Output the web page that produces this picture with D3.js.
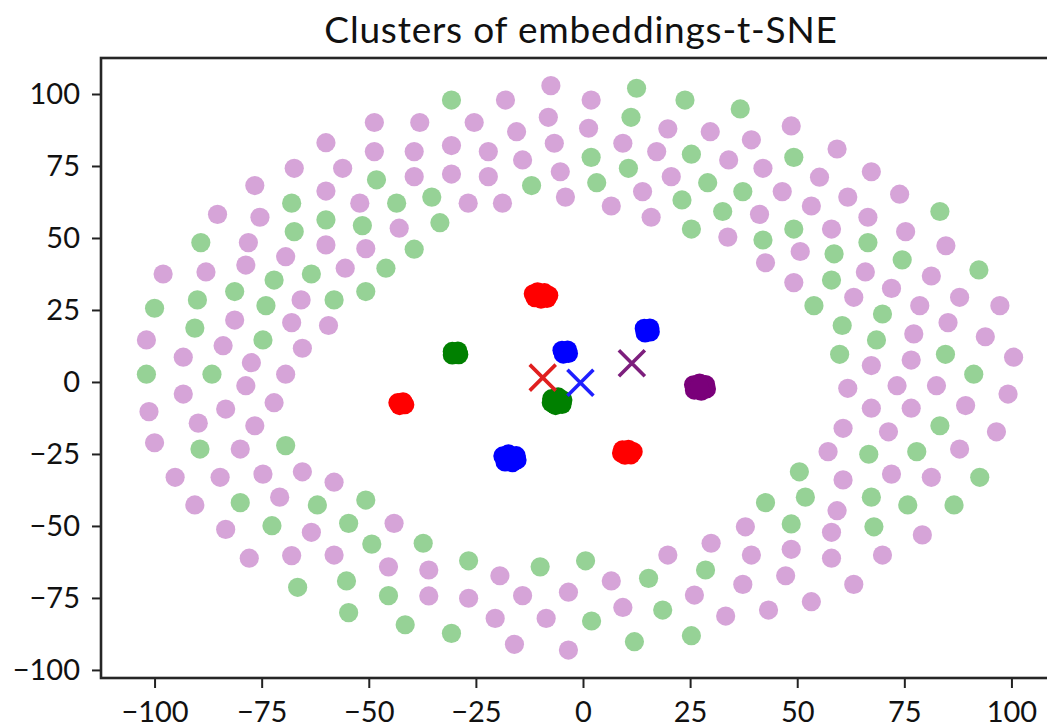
<!DOCTYPE html>
<html>
<head>
<meta charset="utf-8">
<script src="https://cdn.jsdelivr.net/npm/d3@7"></script>
<style>
  html, body { margin: 0; padding: 0; background: #fff; }
  svg { display: block; }
</style>
</head>
<body>
<svg id="chart" width="1047" height="728"></svg>
<script>
// ---- data -------------------------------------------------------------
const chartTitle = "Clusters of embeddings-t-SNE";
const xTicks = [-100, -75, -50, -25, 0, 25, 50, 75, 100];
const yTicks = [-100, -75, -50, -25, 0, 25, 50, 75, 100];

// faint background embeddings (two groups)
const violetPoints = [
  [-48.7,90.1],[-48.7,80.0],[-60.0,83.1],[-67.4,74.2],[-56.1,74.2],[-76.6,68.2],[-60.0,66.3],[-52.1,62.1],
  [-85.3,58.2],[-75.4,57.2],[-42.9,53.4],[-78.1,48.4],[-60.0,47.6],[-50.7,46.3],[-69.4,43.5],[-78.7,40.6],
  [-55.5,39.5],[-98.0,37.5],[-88.0,38.2],
  [-7.5,102.9],[-18.1,97.9],[1.9,97.9],[-38.1,90.1],[-25.4,90.1],[-8.1,91.9],[-15.5,86.9],[1.3,88.1],
  [19.8,87.9],[29.7,86.9],[-39.4,80.0],[-30.7,82.1],[-22.1,80.0],[-6.7,82.9],[9.3,82.9],[17.2,80.0],
  [-14.1,77.1],[-39.4,71.3],[-30.7,72.2],[-22.1,71.3],[-5.3,73.0],[20.6,71.3],[-26.8,62.1],[-18.8,62.1],
  [-4.1,64.2],[6.6,61.1],[13.9,66.1],[15.9,57.2],
  [48.6,88.9],[39.3,84.1],[34.0,77.1],[42.0,74.2],[59.3,80.9],[67.3,73.0],[55.2,71.1],[46.5,66.1],
  [61.8,64.2],[73.9,65.2],[41.2,58.2],[53.3,61.1],[66.5,57.2],[33.8,50.3],[58.0,53.1],[75.3,52.2],
  [84.7,47.3],[42.6,41.4],[50.7,45.3],[81.3,36.8],[65.9,38.2],
  [-65.8,28.5],[-101.9,14.6],[-81.3,21.5],[-68.0,20.6],[-59.4,19.6],[-84.0,12.6],[-93.3,8.6],[-65.5,11.7],
  [-77.4,6.7],[-69.4,2.7],[-78.7,-1.3],[-93.3,-4.2],[-72.1,-7.2],[-101.3,-10.3],[-83.4,-9.4],[-89.8,-14.3],
  [-76.6,-15.2],[-100.0,-21.1],[-80.0,-23.3],[-95.2,-33.1],[-84.7,-33.1],[-74.7,-32.0],[-65.5,-31.2],[-58.1,-34.8],
  [49.2,34.5],[72.0,32.5],[87.9,29.4],[97.3,26.5],[63.2,29.4],[78.6,26.5],[85.2,20.6],[77.2,16.7],
  [93.9,15.7],[67.3,5.7],[76.6,7.6],[100.5,8.6],[61.8,-2.2],[73.3,-1.3],[82.5,-1.3],[99.2,-4.2],
  [67.3,-9.1],[76.6,-9.1],[89.3,-8.2],[60.7,-16.1],[71.3,-17.3],[96.5,-17.3],[57.2,-24.2],[87.9,-23.3],
  [60.7,-34.0],[72.0,-32.0],[81.3,-33.1],
  [-90.6,-42.7],[-70.8,-40.0],[-83.4,-51.2],[-63.4,-52.2],[-44.1,-49.1],[-77.9,-61.2],[-68.0,-60.3],
  [-58.1,-60.1],[-45.4,-64.2],
  [-36.0,-65.3],[-36.0,-74.3],[-26.7,-75.1],[-19.4,-67.3],[-20.5,-82.1],[-14.1,-74.2],[-16.0,-91.1],
  [-8.6,-82.1],[-3.4,-73.0],[-3.4,-93.1],[6.6,-69.1],[9.3,-78.3],[19.8,-60.1],[26.0,-74.0],[29.9,-56.0],
  [37.9,-50.3],[59.3,-44.7],[58.0,-52.2],[79.2,-53.1],[39.3,-60.1],[48.6,-58.1],[58.0,-61.2],[69.9,-60.1],
  [37.3,-70.3],[47.3,-67.3],[63.2,-70.3],[33.3,-81.3],[43.3,-79.2],[53.3,-76.3]
];

const greenPoints = [
  [-48.2,70.2],[-68.0,62.1],[-43.5,62.1],[-60.0,56.3],[-51.5,54.3],[-67.4,52.2],[-89.2,48.4],[-46.0,39.5],
  [-63.4,37.5],[-72.1,35.4],
  [-30.7,97.9],[12.5,102.0],[23.8,97.9],[11.2,91.9],[1.9,78.0],[25.3,79.1],[10.6,74.2],[-12.0,68.2],
  [3.2,69.2],[29.1,69.2],[-35.3,64.2],[23.1,63.2],[-33.4,55.3],[25.3,53.1],[-39.4,46.1],
  [36.7,94.8],[49.2,78.0],[37.3,66.1],[32.6,59.2],[83.3,59.2],[42.0,49.3],[49.2,53.1],[66.5,48.4],
  [58.6,44.5],[74.5,42.4],[92.4,38.9],
  [-100.0,25.6],[-90.0,28.5],[-81.3,31.4],[-74.0,26.5],[-58.1,28.5],[-50.7,31.4],[-90.6,18.7],[-74.7,14.6],
  [-101.9,2.7],[-86.6,2.7],[-89.4,-23.3],[-69.4,-22.1],
  [58.0,35.4],[53.9,26.5],[69.9,23.6],[60.5,19.6],[68.5,14.6],[59.9,9.6],[84.6,9.6],[91.2,2.7],
  [83.3,-15.2],[66.7,-25.1],[77.9,-24.2],[50.5,-31.2],[92.6,-33.1],
  [-80.0,-41.9],[-62.0,-42.7],[-50.7,-41.0],[-72.6,-49.9],[-54.7,-49.1],[-49.3,-56.3],[-66.6,-71.3],
  [-55.2,-69.1],[-45.4,-74.2],[-54.7,-80.1],[-41.5,-84.3],
  [-37.3,-56.0],[-26.7,-62.1],[-30.7,-87.3],[-10.0,-64.2],[0.6,-62.1],[2.0,-83.0],[12.0,-90.2],
  [15.3,-68.2],[18.6,-79.2],[25.3,-88.1],[28.6,-65.3],
  [42.6,-41.9],[51.9,-40.0],[67.3,-40.0],[75.8,-42.7],[86.6,-42.7],[67.9,-50.3],[48.6,-49.3]
];

// tight clusters
const redPoints = [
  [-11.6,30.6],[-10.6,31.3],[-9.0,31.0],[-8.0,30.1],[-8.4,29.0],[-9.8,28.8],[-11.2,29.3],[-10.0,30.0],
  [-43.2,-7.2],[-42.0,-6.9],[-41.6,-7.9],[-42.8,-8.2],[-42.4,-7.5],
  [9.2,-23.6],[10.6,-23.4],[11.7,-24.2],[11.2,-25.3],[9.8,-25.4],[9.0,-24.7],[10.4,-24.4]
];
const darkGreenPoints = [
  [-30.5,10.6],[-29.2,10.7],[-29.0,9.5],[-30.5,9.4],[-29.8,10.0],
  [-7.3,-5.8],[-5.8,-5.2],[-4.7,-6.3],[-4.9,-7.8],[-6.4,-8.2],[-7.4,-7.2],[-6.0,-6.8]
];
const bluePoints = [
  [-4.9,11.0],[-3.6,11.1],[-3.4,9.9],[-4.6,9.7],[-4.2,10.4],
  [14.3,18.6],[15.6,18.7],[15.7,17.4],[14.5,17.0],[15.0,17.9],
  [-18.7,-25.7],[-17.4,-25.0],[-15.6,-25.6],[-15.4,-27.1],[-16.5,-28.0],[-18.2,-27.8],[-17.0,-26.6]
];
const purplePoints = [
  [25.8,-1.0],[27.2,-0.4],[28.6,-0.9],[28.8,-2.4],[27.6,-3.2],[26.0,-2.8],[27.2,-1.8]
];

// cluster centres
const centroidColors = ["#e01f1f", "#1f1fff", "#7d1f7d"];
const centroidPoints = [[-9.4,1.5],[-0.6,-0.3],[11.4,6.5]];

// ---- layout -----------------------------------------------------------
const svg = d3.select("#chart");
const FONT = "Lato, 'Open Sans', sans-serif";
const plot = { left: 101, right: 1065, top: 58, bottom: 678 };

const x = d3.scaleLinear().domain([-112.5, 112.5]).range([plot.left, plot.right]);
const y = d3.scaleLinear().domain([-102.8, 112.5]).range([plot.bottom, plot.top]);
const fmt = d3.format("d");

svg.append("rect").attr("width", 1047).attr("height", 728).attr("fill", "#fff");

// ---- marks --------------------------------------------------------------
const R = 9.6;
function scatter(data, color) {
  svg.append("g").selectAll("circle").data(data).join("circle")
    .attr("cx", d => x(d[0])).attr("cy", d => y(d[1]))
    .attr("r", R).attr("fill", color);
}
scatter(violetPoints, "#d6a4d8");
scatter(greenPoints, "#96d296");
scatter(redPoints, "#ff0000");
scatter(darkGreenPoints, "#008000");
scatter(bluePoints, "#0000ff");
scatter(purplePoints, "#7a007a");

// centre markers drawn as "x"
const arm = 13;
svg.append("g").selectAll("path").data(centroidPoints).join("path")
  .attr("d", d => {
    const cx = x(d[0]), cy = y(d[1]);
    return `M${cx - arm},${cy - arm}L${cx + arm},${cy + arm}M${cx - arm},${cy + arm}L${cx + arm},${cy - arm}`;
  })
  .attr("stroke", (d, i) => centroidColors[i])
  .attr("stroke-width", 3.6)
  .attr("fill", "none");

// ---- axes ---------------------------------------------------------------
const gx = svg.append("g").attr("transform", `translate(0,${plot.bottom})`)
  .call(d3.axisBottom(x).tickValues(xTicks).tickSize(10).tickPadding(13).tickFormat(fmt));
const gy = svg.append("g").attr("transform", `translate(${plot.left},0)`)
  .call(d3.axisLeft(y).tickValues(yTicks).tickSize(9).tickPadding(12).tickFormat(fmt));

[gx, gy].forEach(g => {
  g.select(".domain").remove();
  g.selectAll(".tick line").attr("stroke", "#222").attr("stroke-width", 2);
  g.selectAll(".tick text").attr("fill", "#111")
    .style("font-family", FONT).style("font-size", "29px");
});

// frame
svg.append("rect")
  .attr("x", plot.left).attr("y", plot.top)
  .attr("width", plot.right - plot.left).attr("height", plot.bottom - plot.top)
  .attr("fill", "none").attr("stroke", "#262626").attr("stroke-width", 2.6);

// title
svg.append("text")
  .attr("x", 581).attr("y", 43)
  .attr("text-anchor", "middle")
  .style("font-family", FONT).style("font-size", "37px")
  .style("letter-spacing", "0.8px").attr("fill", "#111")
  .text(chartTitle);
</script>
</body>
</html>
